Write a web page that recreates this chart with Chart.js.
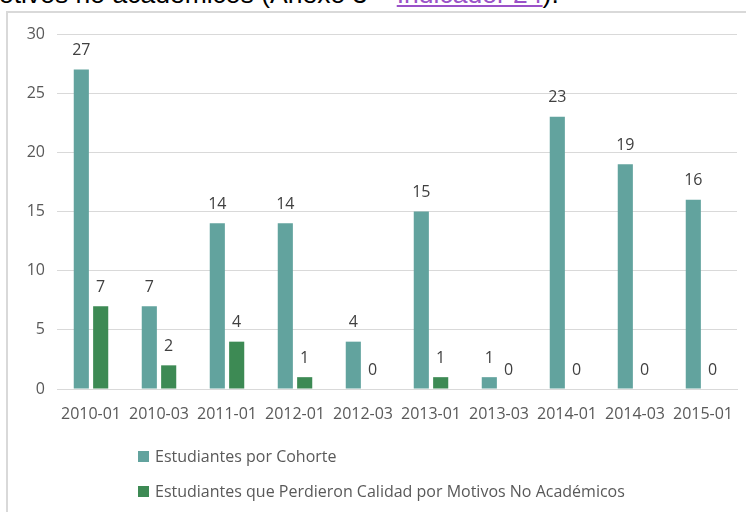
<!DOCTYPE html>
<html lang="es">
<head>
<meta charset="UTF-8">
<title>Estudiantes por Cohorte</title>
<script src="https://cdn.jsdelivr.net/npm/chart.js@4"></script>
<style>
  html, body { margin: 0; padding: 0; background: #fff; overflow: hidden; }
  body { width: 746px; height: 512px; position: relative; font-family: "Open Sans", sans-serif; }
  .doc-line { position: absolute; left: -1px; top: -19px; font-family: "Liberation Sans", Arial, sans-serif; font-size: 26.5px; line-height: 26.5px; color: #000; white-space: nowrap; }
  .doc-line a { color: #9a52c8; text-decoration: underline; }
  .frame { position: absolute; left: 6px; top: 11px; width: 820px; height: 600px; border: 2px solid #d9d9d9; box-sizing: border-box; }
  #wrap { position: absolute; left: 0; top: 0; width: 746px; height: 512px; }
  .legend { position: absolute; left: 138px; top: 0; }
  .legend-item { position: absolute; left: 0; white-space: nowrap; font-size: 16px; color: #595959; display: flex; align-items: center; height: 22px; }
  .legend-item span.box { display: inline-block; width: 11px; height: 11px; margin-right: 6px; }
</style>
</head>
<body>
  <div class="doc-line">otivos no académicos (Anexo 3 – <a href="#">Indicador 24</a>).</div>
  <div class="frame"></div>
  <div id="wrap"><canvas id="chart" width="746" height="512"></canvas></div>
  <div class="legend" id="legend"></div>

<script>
const cohorts = ['2010-01', '2010-03', '2011-01', '2012-01', '2012-03', '2013-01', '2013-03', '2014-01', '2014-03', '2015-01'];
const studentsPerCohort = [27, 7, 14, 14, 4, 15, 1, 23, 19, 16];
const lostNonAcademic = [7, 2, 4, 1, 0, 1, 0, 0, 0, 0];
const yTicks = [0, 5, 10, 15, 20, 25, 30];

const TEAL = '#62a39e';
const GREEN = '#3d8a54';
const FONT = '"Open Sans", sans-serif';

// value labels above each bar
const valueLabels = {
  id: 'valueLabels',
  afterDatasetsDraw(chart) {
    const ctx = chart.ctx;
    ctx.save();
    ctx.font = '16px ' + FONT;
    ctx.fillStyle = '#404040';
    ctx.textAlign = 'center';
    ctx.textBaseline = 'middle';
    chart.data.datasets.forEach((ds, i) => {
      chart.getDatasetMeta(i).data.forEach((bar, j) => {
        ctx.fillText(String(ds.data[j]), bar.x, bar.y - 19);
      });
    });
    ctx.restore();
  }
};

const chart = new Chart(document.getElementById('chart'), {
  type: 'bar',
  data: {
    labels: cohorts,
    datasets: [
      { label: 'Estudiantes por Cohorte', data: studentsPerCohort, backgroundColor: TEAL },
      { label: 'Estudiantes que Perdieron Calidad por Motivos No Académicos', data: lostNonAcademic, backgroundColor: GREEN }
    ]
  },
  options: {
    responsive: false,
    animation: false,
    devicePixelRatio: 1,
    categoryPercentage: 0.57,
    barPercentage: 0.78,
    layout: { padding: { left: 0, right: 9, top: 34, bottom: 83 } },
    plugins: { legend: { display: false }, tooltip: { enabled: false } },
    scales: {
      x: {
        grid: { display: false },
        border: { color: '#d9d9d9', width: 1 },
        ticks: { color: '#595959', font: { family: FONT, size: 16 }, padding: 8, maxRotation: 0, autoSkip: false },
        afterFit: s => { s.height = 40; }
      },
      y: {
        min: 0,
        max: 30,
        afterBuildTicks: s => { s.ticks = yTicks.map(v => ({ value: v })); },
        grid: { color: '#d9d9d9', lineWidth: 1, drawTicks: false },
        border: { display: false },
        ticks: { color: '#595959', font: { family: FONT, size: 16 }, padding: 12 },
        afterFit: s => { s.width = 57; }
      }
    }
  },
  plugins: [valueLabels]
});

// legend stacked like the original
const legendEl = document.getElementById('legend');
const rowsY = [445, 480];
chart.data.datasets.forEach((ds, i) => {
  const item = document.createElement('div');
  item.className = 'legend-item';
  item.style.top = rowsY[i] + 'px';
  item.innerHTML = '<span class="box" style="background:' + ds.backgroundColor + '"></span>' + ds.label;
  legendEl.appendChild(item);
});
</script>
</body>
</html>
